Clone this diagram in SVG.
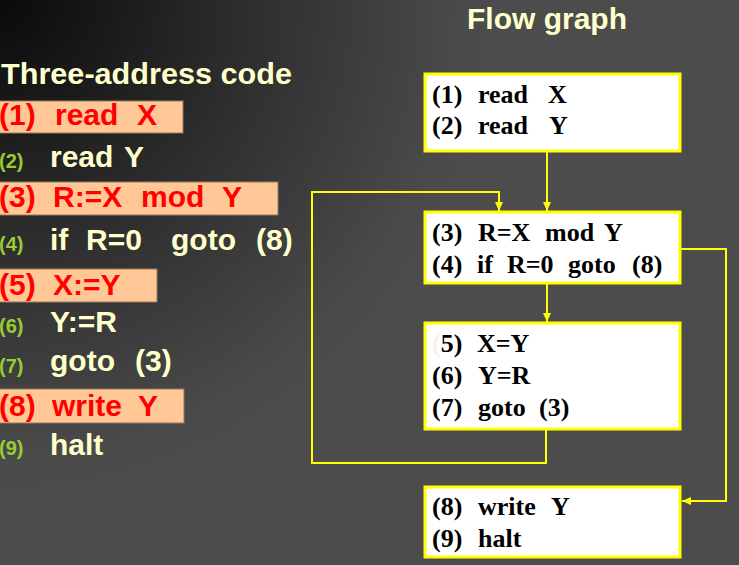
<svg xmlns="http://www.w3.org/2000/svg" width="739" height="565" viewBox="0 0 739 565">
<defs>
<radialGradient id="bg" cx="0" cy="0" r="500" gradientUnits="userSpaceOnUse">
<stop offset="0" stop-color="#0a0a0a"/>
<stop offset="0.5" stop-color="#2e2e2e"/>
<stop offset="0.92" stop-color="#4a4a4a"/>
<stop offset="1" stop-color="#4c4c4c"/>
</radialGradient>
<marker id="ah" markerUnits="userSpaceOnUse" markerWidth="10" markerHeight="10" refX="9" refY="4" orient="auto">
<path d="M0,0 L9,4 L0,8 z" fill="#ffff00"/>
</marker>
<style>
.title{font-family:"Liberation Sans",Arial,sans-serif;font-weight:bold;fill:#ffffcc}
.code{font-family:"Liberation Sans",Arial,sans-serif;font-weight:bold;font-size:30px;fill:#ffffcc}
.red{fill:#ff0000}
.num{font-family:"Liberation Sans",Arial,sans-serif;font-weight:bold;font-size:20px;fill:#99cc33}
.hl{fill:#ffc896;stroke:#9a7a5a;stroke-width:1}
.box{fill:#ffffff;stroke:#ffff00;stroke-width:3}
.bt{font-family:"Liberation Serif","Times New Roman",serif;font-weight:bold;font-size:26px;fill:#000000}
.edge{fill:none;stroke:#ffff00;stroke-width:2}
</style>
</defs>
<rect width="739" height="565" fill="url(#bg)"/>

<text class="title" x="467" y="29" font-size="30">Flow graph</text>
<text class="title" x="1" y="84" font-size="30" textLength="291" lengthAdjust="spacingAndGlyphs">Three-address code</text>

<g id="code">
<rect class="hl" x="-1" y="101" width="184" height="32"/>
<rect class="hl" x="-1" y="182" width="279" height="33"/>
<rect class="hl" x="-1" y="269" width="158" height="33"/>
<rect class="hl" x="-1" y="389" width="185" height="34"/>
<text class="code red" y="125"><tspan x="-1">(1)</tspan><tspan x="55">read</tspan><tspan x="137">X</tspan></text>
<text class="num" x="-1" y="168">(2)</text>
<text class="code" y="167"><tspan x="50">read</tspan><tspan x="124">Y</tspan></text>
<text class="code red" y="207"><tspan x="-1">(3)</tspan><tspan x="53">R:=X</tspan><tspan x="141">mod</tspan><tspan x="222">Y</tspan></text>
<text class="num" x="-1" y="251">(4)</text>
<text class="code" y="250"><tspan x="50">if</tspan><tspan x="86">R=0</tspan><tspan x="171">goto</tspan><tspan x="256">(8)</tspan></text>
<text class="code red" y="295"><tspan x="-1">(5)</tspan><tspan x="53">X:=Y</tspan></text>
<text class="num" x="-1" y="333">(6)</text>
<text class="code" y="332"><tspan x="50">Y:=R</tspan></text>
<text class="num" x="-1" y="373">(7)</text>
<text class="code" y="371"><tspan x="50">goto</tspan><tspan x="135">(3)</tspan></text>
<text class="code red" y="416"><tspan x="-1">(8)</tspan><tspan x="52">write</tspan><tspan x="138">Y</tspan></text>
<text class="num" x="-1" y="455">(9)</text>
<text class="code" y="455"><tspan x="50">halt</tspan></text>
</g>

<g id="connectors">
<path class="edge" d="M547,151 V211" marker-end="url(#ah)"/>
<path class="edge" d="M547,283 V322" marker-end="url(#ah)"/>
<path class="edge" d="M546,429 V463 H312 V192 H499 V211" marker-end="url(#ah)"/>
<path class="edge" d="M680,249 H726 V501 H682" marker-end="url(#ah)"/>
</g>

<g id="B1">
<rect class="box" x="425" y="74" width="255" height="77"/>
<text class="bt" y="103"><tspan x="432">(1)</tspan><tspan x="478">read</tspan><tspan x="548">X</tspan></text>
<text class="bt" y="134"><tspan x="432">(2)</tspan><tspan x="478">read</tspan><tspan x="549">Y</tspan></text>
</g>

<g id="B2">
<rect class="box" x="425" y="212" width="255" height="71"/>
<text class="bt" y="241"><tspan x="432">(3)</tspan><tspan x="478">R=X</tspan><tspan x="545">mod</tspan><tspan x="604">Y</tspan></text>
<text class="bt" y="273"><tspan x="432">(4)</tspan><tspan x="477">if</tspan><tspan x="507">R=0</tspan><tspan x="568">goto</tspan><tspan x="632">(8)</tspan></text>
</g>

<g id="B3">
<rect class="box" x="425" y="323" width="255" height="106"/>
<text class="bt" y="352"><tspan x="432" fill="#f2f2e6">(</tspan><tspan>5)</tspan><tspan x="477">X=Y</tspan></text>
<text class="bt" y="384"><tspan x="432">(6)</tspan><tspan x="478">Y=R</tspan></text>
<text class="bt" y="416"><tspan x="432">(7)</tspan><tspan x="478">goto</tspan><tspan x="539">(3)</tspan></text>
</g>

<g id="B4">
<rect class="box" x="425" y="487" width="255" height="70"/>
<text class="bt" y="515"><tspan x="432">(8)</tspan><tspan x="478">write</tspan><tspan x="551">Y</tspan></text>
<text class="bt" y="547"><tspan x="432">(9)</tspan><tspan x="478">halt</tspan></text>
</g>
</svg>
